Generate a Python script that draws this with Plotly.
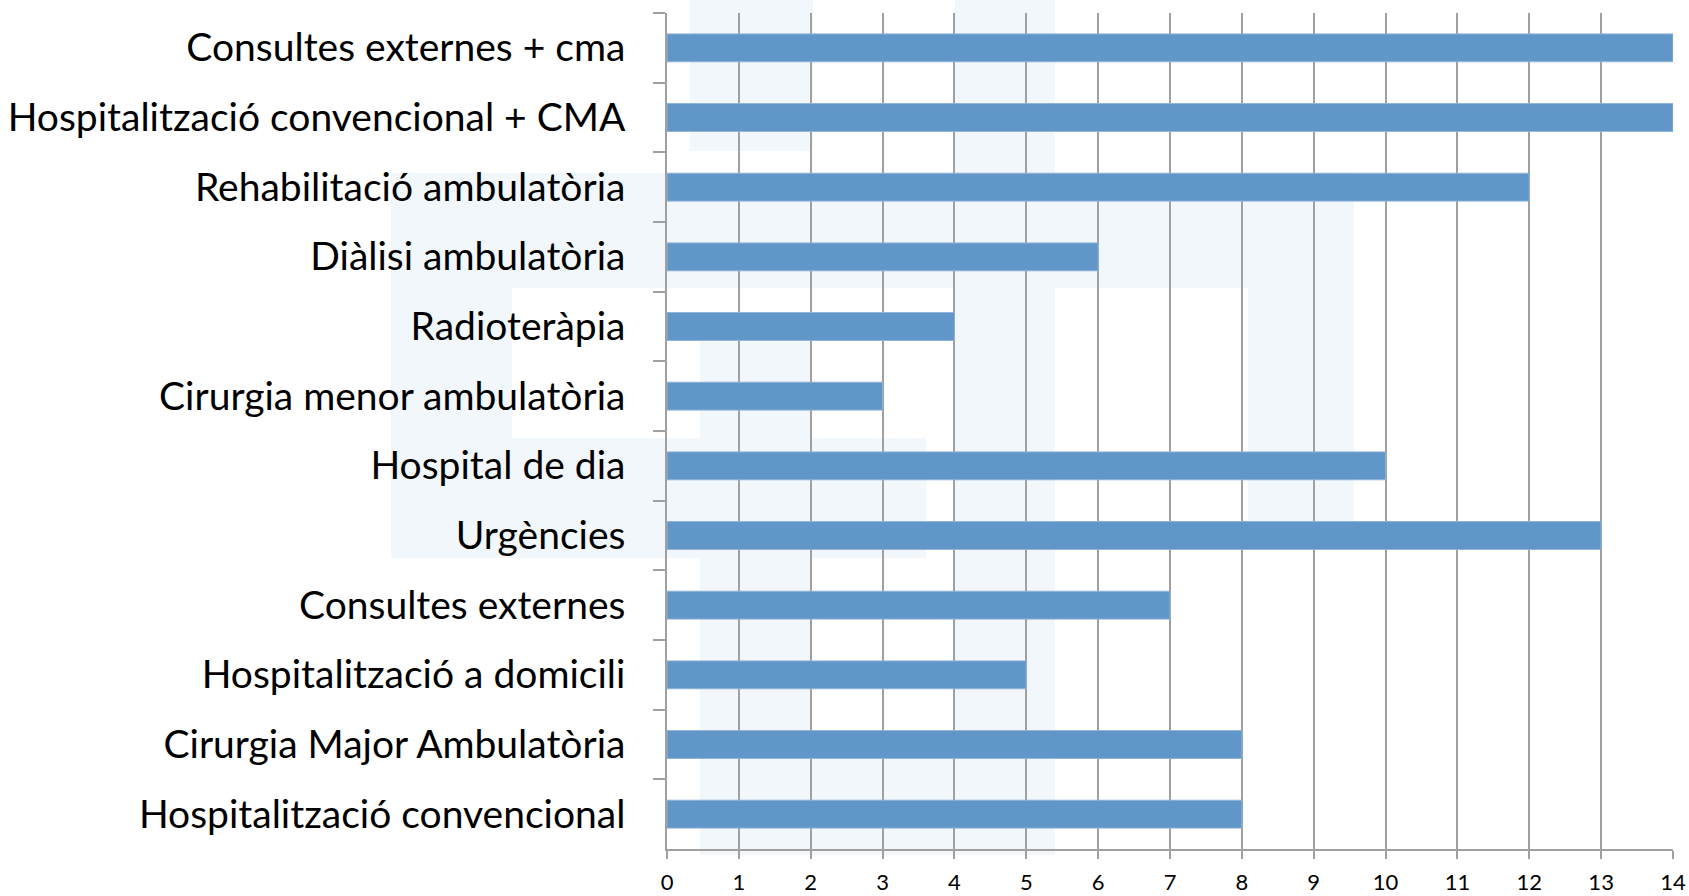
import plotly.graph_objects as go

categories = [
    "Consultes externes + cma",
    "Hospitalització convencional + CMA",
    "Rehabilitació ambulatòria",
    "Diàlisi ambulatòria",
    "Radioteràpia",
    "Cirurgia menor ambulatòria",
    "Hospital de dia",
    "Urgències",
    "Consultes externes",
    "Hospitalització a domicili",
    "Cirurgia Major Ambulatòria",
    "Hospitalització convencional",
]
values = [14, 14, 12, 6, 4, 3, 10, 13, 7, 5, 8, 8]
x_ticks = list(range(0, 15))

W, H = 1689, 896
# plot area in screen pixels: x 667..1673, y 13..849
SL, SR, ST, SB = 667, 1673, 13, 849
L, T, R, B = SL, ST, W - SR, H - SB
PW, PH = W - L - R, H - T - B

def px(x):
    return (x - SL) / PW

def py(y):
    return 1 - (y - ST) / PH

# faint watermark blocks (screen pixel boxes)
wm_boxes = [
    (690, 0, 813, 151),
    (955, 0, 1055, 855),
    (391, 173, 1354, 288),
    (391, 173, 512, 558),
    (391, 438, 926, 558),
    (1248, 173, 1354, 530),
    (700, 315, 812, 855),
    (700, 737, 1055, 855),
]
wm_color = "#f2f7fb"

shapes = []
for x0, y0, x1, y1 in wm_boxes:
    shapes.append(dict(type="rect", xref="paper", yref="paper",
                       x0=px(x0), x1=px(x1), y0=py(y1), y1=py(y0),
                       fillcolor=wm_color, line=dict(width=0), layer="below"))

fig = go.Figure(go.Bar(
    x=values, y=categories, orientation="h",
    marker=dict(color="#6196c8", line=dict(color="#8fb3d9", width=1)),
    width=0.4,
))

fig.update_layout(
    width=W, height=H,
    margin=dict(l=L, r=R, t=T, b=B, autoexpand=False),
    paper_bgcolor="white",
    plot_bgcolor="rgba(0,0,0,0)",
    showlegend=False,
    shapes=shapes,
    font=dict(family="Lato", color="black"),
)
fig.update_xaxes(
    range=[0, 14], tickvals=x_ticks, ticktext=[str(v) for v in x_ticks],
    showgrid=True, gridcolor="#a0a0a0", gridwidth=1.6,
    showline=True, linecolor="#a0a0a0", linewidth=1.6,
    ticks="outside", ticklen=8, tickcolor="#a0a0a0", tickwidth=1.6,
    tickfont=dict(size=22, family="Lato", color="black"),
    ticklabelstandoff=5, zeroline=False, automargin=False,
)
fig.update_yaxes(
    autorange="reversed", tickson="boundaries",
    showgrid=False,
    showline=True, linecolor="#a0a0a0", linewidth=1.6,
    ticks="outside", ticklen=12, tickcolor="#a0a0a0", tickwidth=1.6,
    tickfont=dict(size=39, family="Lato", color="black"),
    ticklabelstandoff=32, automargin=False,
)

fig.write_html(
    "out.html",
    config={"displayModeBar": False},
    post_script="document.body.style.margin='0';document.body.style.overflow='hidden';",
)
